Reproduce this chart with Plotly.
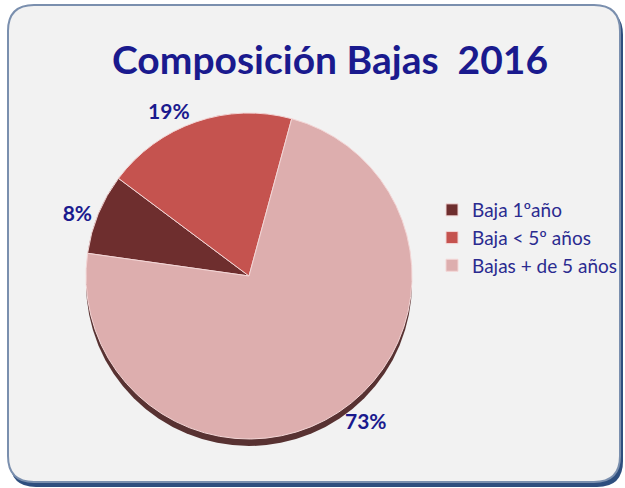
import plotly.graph_objects as go

W, H = 625, 488

categories = ["Baja 1ºaño", "Baja < 5º años", "Bajas + de 5 años"]
values = [8, 19, 73]
slice_colors = ["#6E2E2E", "#C5534F", "#DDAEAE"]
title_text = "Composición Bajas  2016"

navy = "#1A1A8E"

def px(x):
    return x / W

def py(y):
    return 1 - y / H

def rrect(x0, y0, x1, y1, r):
    return (f"M {px(x0 + r)},{py(y0)} L {px(x1 - r)},{py(y0)} "
            f"Q {px(x1)},{py(y0)} {px(x1)},{py(y0 + r)} "
            f"L {px(x1)},{py(y1 - r)} Q {px(x1)},{py(y1)} {px(x1 - r)},{py(y1)} "
            f"L {px(x0 + r)},{py(y1)} Q {px(x0)},{py(y1)} {px(x0)},{py(y1 - r)} "
            f"L {px(x0)},{py(y0 + r)} Q {px(x0)},{py(y0)} {px(x0 + r)},{py(y0)} Z")

# pie geometry (pixels)
cx, cy, R = 249, 276, 163
depth = 7
dom_x = [px(cx - R), px(cx + R)]
dom_y = [py(cy + R), py(cy - R)]
dom_y_rim = [py(cy + R + depth), py(cy - R + depth)]

fig = go.Figure()

# 3D rim (side of the pie)
fig.add_trace(go.Pie(
    values=[sum(values)], labels=["rim"], sort=False,
    marker=dict(colors=["#583232"], line=dict(width=0)),
    textinfo="none", hoverinfo="skip", showlegend=False,
    domain=dict(x=dom_x, y=dom_y_rim),
))

fig.add_trace(go.Pie(
    labels=categories, values=values, sort=False,
    direction="clockwise", rotation=278,
    marker=dict(colors=slice_colors, line=dict(color="#F3D6D6", width=1)),
    texttemplate="<b>%{value}%</b>", textposition="outside",
    textfont=dict(family="Lato", size=21, color=navy),
    outsidetextfont=dict(family="Lato", size=21, color=navy),
    domain=dict(x=dom_x, y=dom_y),
    hoverinfo="label+percent",
))

fig.update_layout(
    width=W, height=H,
    margin=dict(l=0, r=0, t=0, b=0),
    paper_bgcolor="white",
    plot_bgcolor="white",
    title=dict(text="<b>" + title_text + "</b>", x=px(330), xanchor="center",
               y=py(60), yanchor="middle",
               font=dict(family="Lato", size=39, color=navy)),
    legend=dict(x=px(432), y=py(191), xanchor="left", yanchor="top",
                font=dict(family="Lato", size=19, color="#2B2B90"),
                bgcolor="rgba(0,0,0,0)", itemwidth=30,
                traceorder="normal"),
    shapes=[
        dict(type="path", xref="paper", yref="paper", layer="below",
             path=rrect(10, 9, 623, 487, 26),
             fillcolor="#2E4E7E", line=dict(width=0)),
        dict(type="path", xref="paper", yref="paper", layer="below",
             path=rrect(8, 5, 620, 482, 26),
             fillcolor="#F2F2F2", line=dict(color="#7A8FAE", width=2)),
    ],
)

fig.write_html("out.html", config={"displayModeBar": False},
               post_script="document.body.style.margin='0px';")
